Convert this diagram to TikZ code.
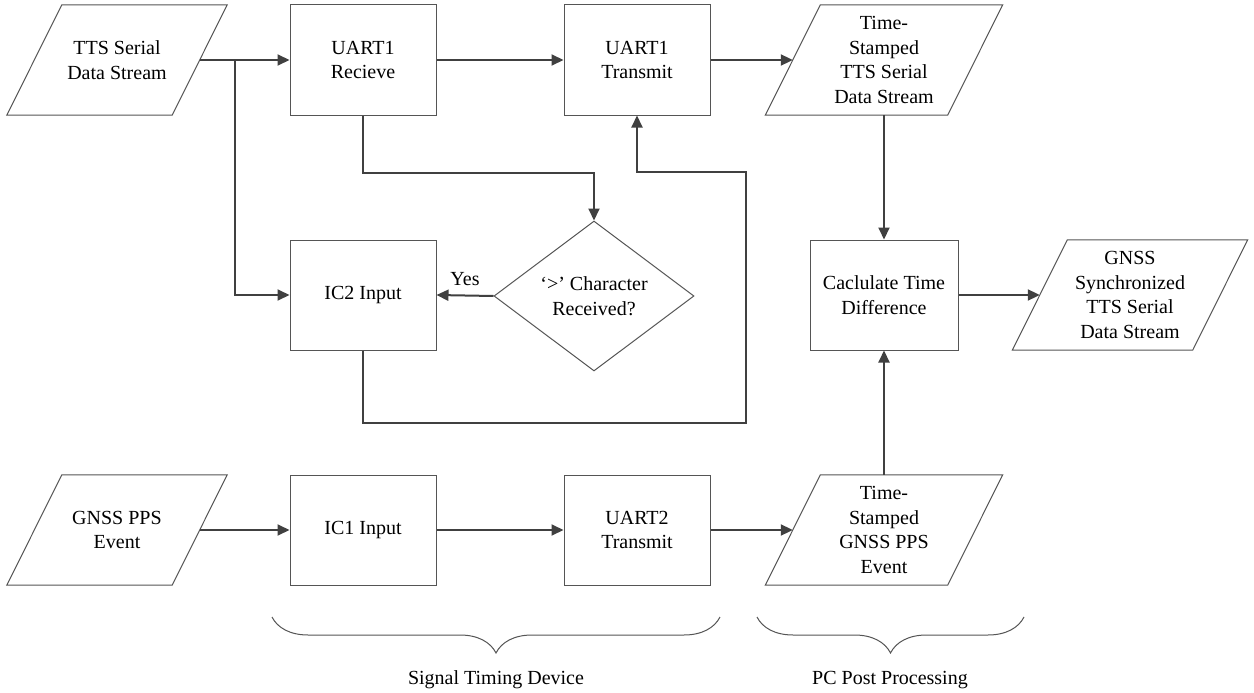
\documentclass[tikz,border=0pt]{standalone}
\usepackage{fontspec}
\setmainfont{LiberationSerif}[Extension=.ttf, UprightFont=*-Regular, BoldFont=*-Bold]
\usetikzlibrary{positioning,shapes.geometric,arrows.meta,decorations.pathreplacing}
\definecolor{linegray}{HTML}{404040}
\definecolor{boxgray}{HTML}{555555}

\begin{document}
\begin{tikzpicture}[
    x=1pt, y=-1pt,
    font=\fontsize{20}{24.5}\selectfont,
    block/.style={rectangle, draw=boxgray, line width=1pt, minimum width=146pt, minimum height=110pt, align=center, inner sep=2pt},
    data/.style={rectangle, minimum height=110pt, align=center, inner sep=0pt},
    decision/.style={diamond, draw=boxgray, line width=1pt, minimum width=200pt, minimum height=150pt, aspect=1.33, align=center, inner sep=0pt},
    flow/.style={draw=linegray, line width=2pt, -{Triangle[length=12pt, width=11pt]}},
    brace/.style={draw=boxgray, line width=1pt, decorate, decoration={brace, mirror, amplitude=36pt}},
    caption/.style={font=\fontsize{20}{24.5}\selectfont}
]

% Page frame
\fill[white] (0,0) rectangle (1254,693);

% Data (parallelogram) nodes
\node[data, minimum width=165pt] (tts) at (117,60) {TTS Serial\\Data Stream};
\node[data, minimum width=182pt] (tstts) at (884,60) {Time-\\Stamped\\TTS Serial\\Data Stream};
\node[data, minimum width=180pt] (gsync) at (1130,295) {GNSS\\Synchronized\\TTS Serial\\Data Stream};
\node[data, minimum width=165pt] (pps) at (117,530) {GNSS PPS\\Event};
\node[data, minimum width=182pt] (tspps) at (884,530) {Time-\\Stamped\\GNSS PPS\\Event};

\foreach \n in {tts, tstts, gsync, pps, tspps}
  \draw[draw=boxgray, line width=1pt] ([xshift=27.5pt]\n.north west) -- ([xshift=27.5pt]\n.north east)
    -- ([xshift=-27.5pt]\n.south east) -- ([xshift=-27.5pt]\n.south west) -- cycle;

% Process blocks
\node[block] (recv) at (363,60) {UART1\\Recieve};
\node[block] (xmit) at (637,60) {UART1\\Transmit};
\node[block] (ic2) at (363,295) {IC2 Input};
\node[block, minimum width=148pt] (calc) at (884,295) {Caclulate Time\\Difference};
\node[block] (ic1) at (363,530) {IC1 Input};
\node[block] (uart2) at (637,530) {UART2\\Transmit};

% Decision
\node[decision] (chk) at (594,296) {‘>’ Character\\Received?};

% Helper points
\coordinate (split) at (235,60);
\coordinate (loopbot) at (746,423);
\coordinate (looptop) at (746,172);

% Connectors
\draw[flow] (tts.east) -- (recv.west);
\draw[flow] (split) |- (ic2.west);
\draw[flow] (recv.east) -- (xmit.west);
\draw[flow] (xmit.east) -- (tstts.west);
\draw[flow] (recv.south) -- ++(0,57) -| (chk.north);
\draw[flow] (chk.west) -- (ic2.east) node[midway, above=5pt, text=black] {Yes};
\draw[flow] (ic2.south) |- (loopbot) -- (looptop) -| (xmit.south);
\draw[flow] (tstts.south) -- (calc.north);
\draw[flow] (calc.east) -- (gsync.west);
\draw[flow] (pps.east) -- (ic1.west);
\draw[flow] (ic1.east) -- (uart2.west);
\draw[flow] (uart2.east) -- (tspps.west);
\draw[flow] (tspps.north) -- (calc.south);

% Braces and their labels
\coordinate (stdL) at (272,617);
\coordinate (stdR) at (720,617);
\coordinate (pcL) at (757,617);
\coordinate (pcR) at (1024,617);
\draw[brace] (stdL) -- (stdR);
\draw[brace] (pcL) -- (pcR);
\node[caption] (stdlbl) at (496,680) {Signal Timing Device};
\node[caption] (pclbl) at (890,680) {PC Post Processing};

\end{tikzpicture}
\end{document}
